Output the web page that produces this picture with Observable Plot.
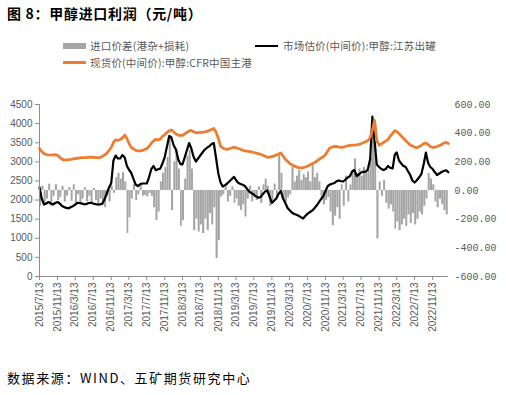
<!DOCTYPE html>
<html><head><meta charset="utf-8">
<script src="https://cdn.jsdelivr.net/npm/d3@7"></script>
<script src="https://cdn.jsdelivr.net/npm/@observablehq/plot@0.6"></script>
<style>
body{margin:0;background:#fff;width:506px;height:395px;position:relative;overflow:hidden;font-family:"Noto Sans CJK SC",sans-serif;}
.abs{position:absolute;white-space:nowrap;}
.lg{font-size:10.5px;color:#595959;line-height:13px;letter-spacing:0.2px;}
#chart{position:absolute;left:0;top:90px;}
</style></head>
<body>
<div class="abs" style="left:7px;top:3px;font-size:14px;font-weight:bold;letter-spacing:0.7px;color:#000;line-height:20px;">图 8：甲醇进口利润（元/吨）</div>
<div class="abs" style="left:63px;top:42.5px;width:23px;height:6px;background:#a5a5a5;"></div>
<div class="abs lg" style="left:90px;top:39px;" id="lg1"></div>
<div class="abs" style="left:255px;top:44.5px;width:23px;height:2px;background:#000;"></div>
<div class="abs lg" style="left:283px;top:39px;" id="lg2"></div>
<div class="abs" style="left:63px;top:61px;width:23px;height:2.5px;background:#ED7D31;"></div>
<div class="abs lg" style="left:90px;top:55.5px;" id="lg3"></div>
<div id="chart"></div>
<div class="abs" style="left:7px;top:369px;font-size:13px;letter-spacing:1.6px;color:#000;line-height:18px;">数据来源：WIND、五矿期货研究中心</div>
<script>
// ---- series names ----
const seriesNames = ["进口价差(港杂+损耗)", "市场估价(中间价):甲醇:江苏出罐", "现货价(中间价):甲醇:CFR中国主港"];

// ---- x categories: semi-monthly observations (13th and 28th), 2015/7 - 2023/2 ----
const firstYear = 2015, firstMonth = 7, lastYear = 2023, lastMonth = 2;
const obsDays = [13, 28];

// ---- x tick labels ----
const xTickLabels = ["2015/7/13","2015/11/13","2016/3/13","2016/7/13","2016/11/13","2017/3/13","2017/7/13","2017/11/13","2018/3/13","2018/7/13","2018/11/13","2019/3/13","2019/7/13","2019/11/13","2020/3/13","2020/7/13","2020/11/13","2021/3/13","2021/7/13","2021/11/13","2022/3/13","2022/7/13","2022/11/13"];

// ---- left / right axis ticks ----
const leftTicks = [0,500,1000,1500,2000,2500,3000,3500,4000,4500];
const rightTicks = [-600,-400,-200,0,200,400,600];

// ---- import spread (bars, right axis) ----
const spread = [
-110,30,-100,-60,45,-110,-40,40,-70,-50,
30,-80,-40,20,-75,40,-90,-30,-100,-60,
20,-80,-40,-95,15,-70,-110,-60,-100,-120,
-40,-80,30,-20,90,120,80,125,60,-300,
-190,-60,40,-70,-30,35,-40,-35,-45,-20,
-40,-120,-210,-150,60,120,160,230,384,-140,
200,280,150,-250,-210,80,240,280,150,-280,
-200,-290,-240,-300,-200,-280,-160,-240,-120,-475,
-350,-45,-30,35,-80,-40,25,-90,-60,-110,
-140,-100,-185,-60,30,-80,-50,-70,25,-90,
40,80,30,-110,-90,45,-60,255,120,-60,
-80,-50,-30,160,60,100,140,70,110,90,
130,60,185,90,120,60,-60,-100,-70,-50,
-150,-245,-180,-120,-200,40,-110,100,-80,40,
120,220,120,150,100,160,120,140,230,400,
330,-337,60,-40,70,-90,-130,-100,-150,-270,
-220,-280,-240,-200,-250,-170,-230,-160,-240,-200,
-150,-170,-110,-60,120,80,40,-80,-120,-60,
-100,-140,-170,-150];

// ---- Jiangsu market price (black, left axis) ----
const jiangsu = [
2330,2040,1884,1910,1949,1910,1884,1923,1949,1910,
1844,1816,1795,1784,1818,1847,1884,1925,1923,1907,
1889,1899,1923,1928,1910,1894,1884,1884,1907,2014,
2171,2315,2446,3035,3165,3087,3087,3176,3113,2891,
2799,2721,2558,2407,2367,2412,2433,2433,2433,2590,
2807,2891,2781,2804,2822,2956,3131,3401,3675,3636,
3427,3322,3061,2940,2930,3103,3307,3492,3348,3131,
3008,3087,3165,3244,3322,3369,3409,3466,3492,3113,
2695,2459,2354,2391,2433,2493,2551,2606,2525,2452,
2420,2399,2367,2289,2216,2179,2140,2098,2059,2080,
2158,2224,2250,2093,1923,1983,2040,2158,2237,2040,
1923,1792,1734,1674,1635,1617,1590,1554,1517,1580,
1640,1682,1719,1779,1857,1941,2022,2098,2239,2367,
2407,2428,2446,2496,2511,2493,2485,2532,2590,2624,
2747,2786,2629,2668,2721,2739,2739,2799,3074,4186,
3558,2930,2865,2812,2784,2812,2891,2844,2825,3192,
3244,3040,2956,2891,2865,2760,2655,2511,2459,2519,
2595,2676,2943,3244,2969,2865,2812,2726,2655,2695,
2734,2760,2781,2726];

// ---- CFR China main port spot (orange, right axis) ----
const cfr = [
293,272,257,251,248,247,249,250,245,232,
219,212,214,215,217,220,223,225,228,229,
230,230,232,232,232,230,230,230,237,248,
258,279,300,335,354,349,356,366,387,363,
331,303,290,280,277,277,279,286,292,307,
329,345,358,352,359,377,391,405,417,422,
408,394,385,384,384,394,405,415,419,410,
403,404,405,405,409,413,418,426,433,408,
363,310,297,290,286,293,297,302,298,293,
288,281,276,274,272,269,265,261,257,253,
246,239,232,233,237,241,248,255,262,241,
218,203,190,179,171,165,160,158,160,164,
169,178,186,194,204,216,226,235,251,276,
298,303,308,307,303,300,303,307,312,315,
316,316,319,322,327,333,340,347,370,420,
490,349,316,324,335,345,356,380,398,417,
412,398,380,364,349,333,317,310,303,298,
306,315,327,331,321,307,300,303,307,313,
321,331,335,328];

// ---- build tables ----
const dates = [];
for (let y = firstYear, m = firstMonth; y < lastYear || (y === lastYear && m <= lastMonth); ) {
  for (const d of obsDays) dates.push(new Date(Date.UTC(y, m - 1, d)));
  m++; if (m > 12) { m = 1; y++; }
}
const parseLabel = s => { const [y, m, d] = s.split("/").map(Number); return new Date(Date.UTC(y, m - 1, d)); };
const tickDates = xTickLabels.map(parseLabel);
const labelOf = new Map(tickDates.map((d, i) => [+d, xTickLabels[i]]));
const xEnd = parseLabel("2023/3/1");

const rMin = rightTicks[0], rMax = rightTicks[rightTicks.length - 1];
const lMin = leftTicks[0], lMax = leftTicks[leftTicks.length - 1];
const toLeft = r => lMin + (r - rMin) / (rMax - rMin) * (lMax - lMin);
const toRight = l => rMin + (l - lMin) / (lMax - lMin) * (rMax - rMin);

const barData = dates.map((d, i) => ({x1: d, x2: dates[i + 1] || xEnd, v: spread[i]}));
const blackData = dates.map((d, i) => ({date: d, v: jiangsu[i]}));
const orangeData = dates.map((d, i) => ({date: d, v: cfr[i]}));

document.getElementById("lg1").textContent = seriesNames[0];
document.getElementById("lg2").textContent = seriesNames[1];
document.getElementById("lg3").textContent = seriesNames[2];

const axisColor = "#8c8c8c";
const textColor = "#595959";
const chart = Plot.plot({
  width: 506, height: 260,
  marginLeft: 39, marginRight: 58, marginTop: 14, marginBottom: 74,
  style: {background: "transparent", fontFamily: "'Liberation Sans', Arial, sans-serif", fontSize: "10px", color: textColor},
  x: {type: "utc", domain: [parseLabel("2015/7/13"), xEnd], label: null},
  y: {domain: [lMin, lMax], label: null},
  marks: [
    Plot.rect(barData, {x1: "x1", x2: "x2", y1: toLeft(0), y2: d => toLeft(d.v), fill: "#a5a5a5", insetLeft: 0.1, insetRight: 0.1}),
    Plot.lineY(blackData, {x: "date", y: "v", stroke: "#000", strokeWidth: 2.2, strokeLinejoin: "round"}),
    Plot.lineY(orangeData, {x: "date", y: d => toLeft(d.v), stroke: "#ED7D31", strokeWidth: 2.8, strokeLinejoin: "round"}),
    Plot.ruleX([parseLabel("2015/7/13")], {stroke: axisColor, strokeWidth: 1}),
    Plot.ruleY([lMin], {stroke: axisColor, strokeWidth: 1}),
    Plot.axisY({ticks: leftTicks, tickFormat: d => String(d), tickSize: 4, tickPadding: 3, stroke: axisColor, fill: textColor, fontSize: 10, label: null}),
    Plot.axisY({anchor: "right", ticks: rightTicks.map(toLeft), tickFormat: l => toRight(l).toFixed(2), tickSize: 0, tickPadding: 6, fill: textColor, fontSize: 10, fontFamily: "'Liberation Mono', monospace", letterSpacing: "-1px", label: null}),
    Plot.axisX({ticks: tickDates, tickFormat: d => labelOf.get(+d), tickRotate: -90, tickSize: 4, tickPadding: 2, stroke: axisColor, fill: textColor, fontSize: 10, label: null})
  ]
});
document.getElementById("chart").appendChild(chart);
</script>
</body></html>
